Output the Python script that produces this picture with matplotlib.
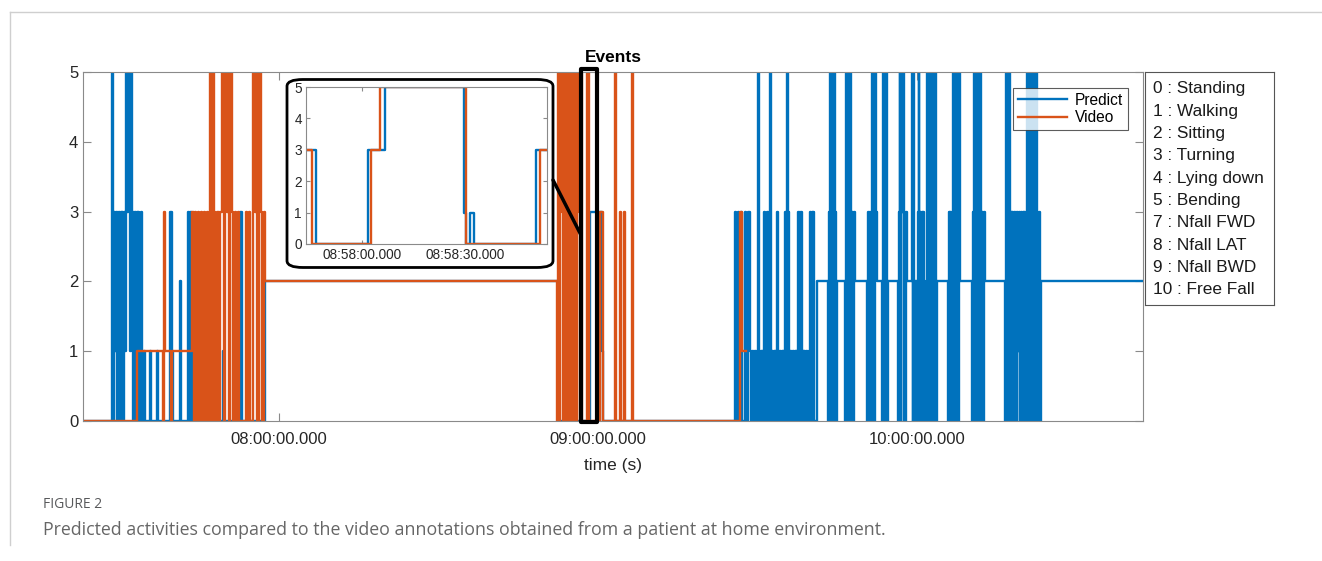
import numpy as np
import matplotlib.pyplot as plt
from matplotlib.patches import Rectangle, FancyBboxPatch, ConnectionPatch
from matplotlib.lines import Line2D

plt.rcParams['font.family'] = ['Liberation Sans', 'DejaVu Sans']

# time in minutes after 07:00:00, value = activity class (step changes)
pred_t = [23.1, 28.6, 28.8, 29.0, 29.15, 29.3, 29.45, 29.6, 29.75, 29.9, 30.05, 30.2, 30.35, 30.5,
          30.65, 30.8, 30.95, 31.1, 31.25, 31.4, 31.55, 31.7, 31.85, 32.0, 32.15, 32.3, 32.45, 32.6,
          32.75, 32.9, 33.05, 33.2, 33.35, 33.5, 33.7, 34.0, 34.2, 34.6, 34.8, 35.7,
          35.9, 37.0, 37.2, 39.5, 39.9, 40.1, 41.4, 41.6, 42.9, 43.1, 43.3, 43.6, 44.2, 44.4, 47.0,
          47.4, 49.5, 49.7, 52.6, 53.0, 57.4,
          112.5, 113.5, 113.8, 115.2, 115.4, 118.5, 120.8, 121.0,
          145.8, 146.0, 146.3, 146.5, 146.8, 147.1, 147.6, 147.9, 148.2, 148.5,
          148.8, 148.95, 149.1, 149.25, 149.4, 149.55, 149.7, 149.85, 150.0, 150.1, 150.3, 150.45,
          150.6, 150.75, 150.9, 151.05, 151.2, 151.35, 151.5, 151.65, 151.8, 151.95, 152.1, 152.25,
          152.45, 152.6, 152.75, 152.9, 153.05, 153.2, 153.35, 153.5, 153.65, 153.8, 153.95, 154.1,
          154.25, 154.4, 154.55, 154.7, 154.85, 155.0, 155.15, 155.3, 155.45, 155.6, 155.8, 155.95,
          156.1, 156.25, 156.4, 156.55, 156.7, 156.85, 157.0, 157.15, 157.3, 157.45, 157.6, 157.75,
          157.9, 158.05, 158.2, 158.35, 158.5, 158.65, 158.8, 158.95, 159.1, 159.25, 159.4, 159.55,
          159.9, 160.05, 160.2, 160.35, 160.5, 160.65, 161.2,
          163.3, 163.45, 163.6, 163.75, 163.9, 164.05, 164.2, 164.35, 164.5, 164.65, 164.8, 165.0,
          166.4, 166.55, 166.7, 166.85, 167.0, 167.15, 167.3, 167.45, 167.6, 167.75, 167.9, 168.05,
          168.3,
          170.6, 170.75, 170.9, 171.05, 171.2, 171.35, 171.5, 171.65, 171.8, 171.95, 172.1, 172.25,
          172.5,
          173.4, 173.55, 173.7, 173.85, 174.0, 174.15, 174.3, 174.5,
          176.4, 176.55, 176.7, 176.85, 177.0, 177.15, 177.3, 177.45, 177.6, 177.75, 177.9, 178.1,
          179.0, 179.15, 179.3, 179.45, 179.6,
          180.0, 180.15, 180.3, 180.45, 180.6, 180.75, 180.9, 181.05, 181.2, 181.35, 181.6, 181.8,
          181.95, 182.1, 182.25, 182.4, 182.55, 182.7, 182.85, 183.0, 183.15, 183.3, 183.45, 183.6,
          183.8,
          185.8, 185.95, 186.1, 186.25, 186.4, 186.55, 186.7, 186.85, 187.0, 187.15, 187.3, 187.45,
          187.6, 187.75, 187.9, 188.1,
          190.4, 190.55, 190.7, 190.85, 191.0, 191.15, 191.3, 191.45, 191.6, 191.75, 191.9, 192.05,
          192.2, 192.35, 192.5, 192.8,
          196.6, 196.75, 196.9, 197.05, 197.2, 197.35, 197.5, 197.65, 197.8, 197.95, 198.1, 198.25,
          198.4, 198.55, 198.7, 198.85, 199.0, 199.15, 199.3, 199.45, 199.6, 199.75, 199.9, 200.05,
          200.2, 200.35, 200.5, 200.65, 200.8, 200.95, 201.1, 201.25, 201.4, 201.55, 201.7, 201.85,
          202.0, 202.15, 202.3, 202.45, 202.6, 202.75, 202.9, 203.05, 203.3,
          222.5]
pred_v = [0, 5, 0, 3, 1, 3, 0, 3, 1, 3, 0, 3, 1, 3,
          0, 3, 1, 3, 5, 3, 5, 3, 5, 1, 5, 3, 0, 3,
          1, 3, 0, 3, 1, 3, 0, 3, 0, 1, 0, 1,
          0, 1, 0, 3, 1, 0, 2, 0, 3, 0, 3, 0, 1, 0, 3,
          0, 1, 0, 3, 0, 2,
          0, 3, 0, 1, 0, 3, 1, 0,
          3, 0, 3, 0, 3, 0, 3, 0, 3, 1,
          0, 1, 0, 1, 0, 1, 0, 1, 0, 5, 1, 0,
          1, 0, 1, 0, 3, 0, 1, 0, 3, 0, 3, 5,
          3, 0, 1, 0, 1, 0, 1, 0, 3, 0, 1, 0,
          1, 0, 1, 0, 1, 0, 3, 0, 3, 5, 3, 0,
          1, 0, 1, 0, 1, 0, 1, 0, 1, 0, 3, 0,
          3, 0, 3, 0, 1, 0, 1, 0, 1, 0, 1, 0,
          3, 0, 3, 0, 3, 0, 2,
          0, 3, 5, 0, 5, 3, 0, 5, 0, 3, 0, 2,
          0, 3, 5, 0, 5, 3, 0, 5, 0, 3, 0, 3,
          2,
          0, 3, 0, 3, 0, 3, 5, 0, 5, 0, 5, 3,
          2,
          0, 5, 3, 5, 0, 5, 0, 2,
          0, 3, 5, 0, 5, 3, 5, 0, 3, 0, 3, 2,
          5, 0, 5, 0, 2,
          0, 3, 5, 0, 3, 0, 3, 0, 3, 0, 2, 0,
          5, 0, 5, 3, 0, 5, 0, 5, 3, 0, 5, 0,
          2,
          0, 3, 0, 3, 0, 3, 0, 5, 0, 5, 3, 0,
          5, 0, 5, 2,
          0, 3, 5, 0, 3, 5, 0, 5, 3, 0, 5, 0,
          3, 0, 3, 2,
          0, 5, 0, 5, 3, 5, 0, 3, 1, 3, 0, 3,
          1, 3, 0, 3, 1, 3, 0, 1, 3, 0, 3, 1,
          3, 0, 3, 5, 0, 5, 0, 5, 3, 0, 5, 0,
          5, 3, 0, 5, 3, 0, 3, 0, 2,
          2]

video_t = [23.1, 33.3, 38.2, 38.4, 38.6, 39.7, 39.9, 43.6,
           43.9, 44.1, 44.4, 44.7, 45.0, 45.2, 45.5, 45.8, 46.1, 46.4, 46.7, 47.0, 47.3, 47.5, 47.7,
           48.0, 48.3, 48.6, 48.9, 49.3, 49.6, 49.8, 50.1, 50.3, 50.6, 50.8, 51.1, 51.3, 51.6, 51.9,
           52.2, 52.5, 53.7, 54.0, 54.3, 54.6, 55.1, 55.4, 55.6, 55.9, 56.2, 56.5, 56.8, 57.1, 57.4,
           112.3, 112.5, 112.7, 112.9, 113.1, 113.3, 113.5, 113.7, 113.9, 114.1, 114.3, 114.5, 114.7,
           114.9, 115.1, 115.3, 115.5, 115.7, 115.9, 116.1, 116.3, 116.5, 116.7, 117.0,
           117.9, 118.3, 120.4, 120.9, 123.2, 123.4, 124.1, 124.3, 124.8, 125.0, 126.4, 126.6,
           146.7, 147.0, 147.8]
video_v = [0, 1, 0, 3, 1, 0, 1, 3,
           0, 3, 0, 3, 0, 3, 0, 3, 0, 3, 0, 5, 0, 5, 3,
           0, 3, 0, 3, 5, 0, 5, 3, 5, 0, 5, 3, 0, 3, 0,
           3, 0, 3, 0, 3, 0, 5, 3, 5, 0, 5, 3, 0, 3, 2,
           0, 5, 0, 3, 5, 0, 5, 3, 0, 5, 0, 3, 5,
           0, 5, 3, 0, 5, 0, 3, 5, 0, 5, 0,
           5, 0, 3, 0, 5, 0, 3, 0, 3, 0, 5, 0,
           3, 1, 1]

# zoomed window, seconds relative to 08:58:00
zoom_pred_t = [-16.3, -13.4, 1.8, 6.7, 29.5, 30.2, 31.3, 32.6, 50.7, 53.8]
zoom_pred_v = [3, 0, 3, 5, 1, 0, 1, 0, 3, 3]
zoom_video_t = [-16.3, -14.7, 2.5, 5.2, 30.3, 51.7, 53.8]
zoom_video_v = [3, 0, 3, 5, 0, 3, 3]

tick_min = [60, 120, 180]
tick_labels = ['08:00:00.000', '09:00:00.000', '10:00:00.000']
zoom_ticks = [0, 30]
zoom_tick_labels = ['08:58:00.000', '08:58:30.000']
classes = ['0 : Standing', '1 : Walking', '2 : Sitting', '3 : Turning', '4 : Lying down',
           '5 : Bending', '7 : Nfall FWD', '8 : Nfall LAT', '9 : Nfall BWD', '10 : Free Fall']

blue = '#0072BD'
orange = '#D95319'
spine_c = '#8a8a8a'

fig = plt.figure(figsize=(13.22, 5.61), dpi=100)

ax = fig.add_axes([0.0628, 0.2496, 0.8018, 0.6221])
ax.step(pred_t, pred_v, where='post', color=blue, lw=1.7, label='Predict')
ax.step(video_t, video_v, where='post', color=orange, lw=1.7, label='Video')
ax.set_xlim(23.1, 222.5)
ax.set_ylim(0, 5)
ax.set_xticks(tick_min)
ax.set_xticklabels(tick_labels)
ax.set_yticks(range(6))
ax.tick_params(direction='in', length=6, labelsize=12, colors='#262626',
               top=True, right=True, color=spine_c)
ax.tick_params(axis='x', pad=8)
for s in ax.spines.values():
    s.set_color(spine_c)
    s.set_linewidth(0.8)
ax.set_xlabel('time (s)', fontsize=12.5, color='#262626', labelpad=8)
leg = ax.legend(loc='upper right', bbox_to_anchor=(0.986, 0.954), borderaxespad=0,
                fancybox=False, edgecolor='#333333', fontsize=11.2, handlelength=3.2,
                handletextpad=0.5, borderpad=0.3, labelspacing=0.15)
leg.get_frame().set_linewidth(0.8)

# events box
ax.add_patch(Rectangle((116.8, -0.02), 3.0, 5.06, fill=False, ec='black', lw=3,
                       joinstyle='round', clip_on=False, zorder=5))
fig.text(613 / 1322, 1 - 58 / 561, 'Events', ha='center', va='center',
         fontsize=12.5, fontweight='bold')

# rounded frame behind the inset
fig.patches.append(FancyBboxPatch((0.2171 + 0.006, 0.5152 + 0.014), 0.2012 - 0.012, 0.3511 - 0.028,
                                  boxstyle='round,pad=0.006,rounding_size=0.012',
                                  transform=fig.transFigure, fc='white', ec='black', lw=2,
                                  zorder=1, figure=fig))

axi = fig.add_axes([0.2315, 0.5651, 0.1823, 0.2798], zorder=2)
axi.step(zoom_pred_t, zoom_pred_v, where='post', color=blue, lw=1.7)
axi.step(zoom_video_t, zoom_video_v, where='post', color=orange, lw=1.7)
axi.set_xlim(-16.3, 53.8)
axi.set_ylim(0, 5)
axi.set_xticks(zoom_ticks)
axi.set_xticklabels(zoom_tick_labels)
axi.set_yticks(range(6))
axi.tick_params(direction='in', length=3, labelsize=9.8, colors='#262626',
                top=True, right=True, color=spine_c, pad=3)
for s in axi.spines.values():
    s.set_color(spine_c)
    s.set_linewidth(0.8)

con = ConnectionPatch(xyA=(553 / 1322, 1 - 180 / 561), coordsA=fig.transFigure,
                      xyB=(116.8, 2.66), coordsB=ax.transData, color='black', lw=2.5, zorder=6)
fig.add_artist(con)

# class key box
axk = fig.add_axes([0.8661, 0.4563, 0.0976, 0.4154])
axk.set_xticks([])
axk.set_yticks([])
for s in axk.spines.values():
    s.set_color('#555555')
    s.set_linewidth(0.8)
for i, c in enumerate(classes):
    axk.text(0.06, 1 - (17 + 22.3 * i) / 233, c, transform=axk.transAxes,
             fontsize=12.4, va='center', ha='left', color='#1a1a1a')

# page frame and caption
fig.add_artist(Line2D([10 / 1322, 10 / 1322], [1 - 12 / 561, 1 - 545 / 561],
                      transform=fig.transFigure, color='#cfcfcf', lw=1))
fig.add_artist(Line2D([10 / 1322, 1.0], [1 - 12 / 561, 1 - 12 / 561],
                      transform=fig.transFigure, color='#cfcfcf', lw=1))
fig.text(43 / 1322, 1 - 505 / 561, 'FIGURE 2', fontsize=10, color='#58595b',
         family='Open Sans', va='center')
fig.text(43 / 1322, 1 - 530 / 561,
         'Predicted activities compared to the video annotations obtained from a patient at home environment.',
         fontsize=12.8, color='#666666', family='Open Sans', va='center')

fig.savefig('out.png', dpi=100)
